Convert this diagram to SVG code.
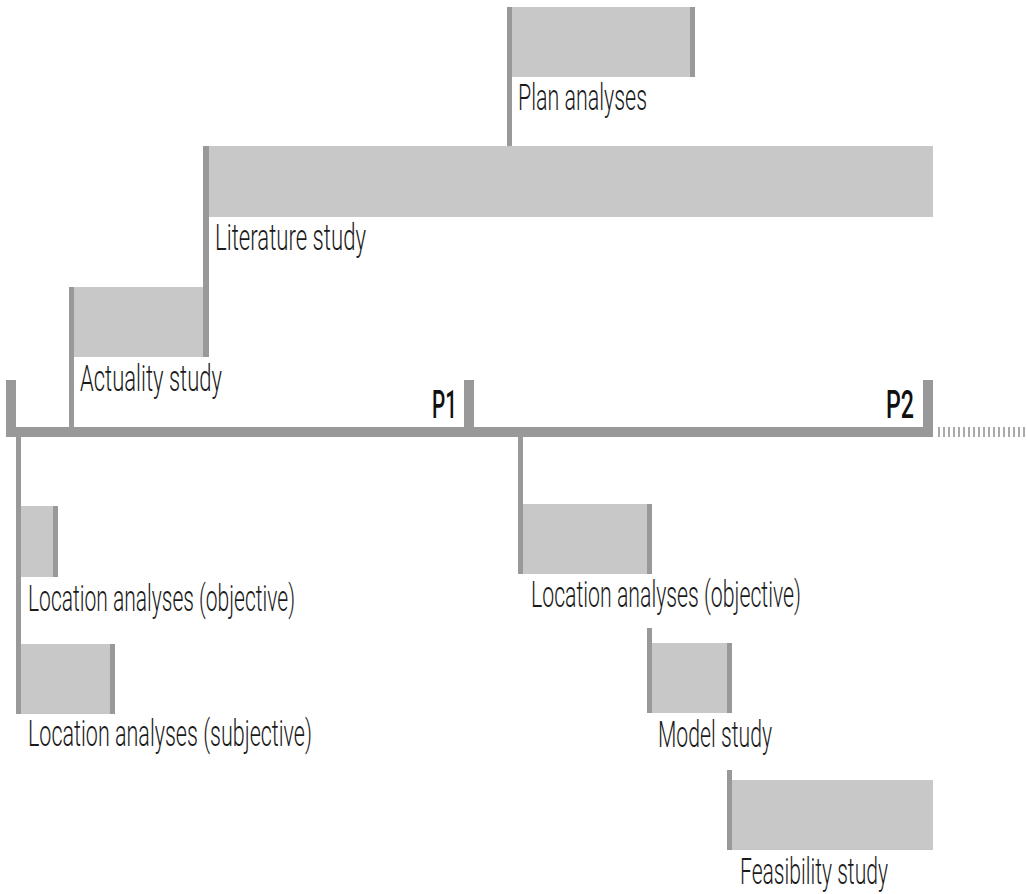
<svg xmlns="http://www.w3.org/2000/svg" width="1027" height="894" viewBox="0 0 1027 894">
<defs>
<style>
.box{fill:#c8c8c8}
.bar{fill:#999999}
.lbl{font-family:Roboto,"Liberation Sans",sans-serif;font-weight:300;font-size:36px;fill:#1a1a1a}
.mile{font-family:Roboto,"Liberation Sans",sans-serif;font-weight:500;font-size:38px;fill:#111111}
</style>
<pattern id="dots" x="938" y="0" width="5" height="10" patternUnits="userSpaceOnUse">
<rect x="0" y="0" width="2" height="10" fill="#aaaaaa"/>
</pattern>
</defs>
<rect width="1027" height="894" fill="#ffffff"/>

<g id="timeline">
<rect class="bar" x="6" y="427" width="927" height="10"/>
<rect class="bar" x="6" y="380" width="10" height="57"/>
<rect class="bar" x="464" y="380" width="10" height="47"/>
<rect class="bar" x="923" y="380" width="10" height="47"/>
<rect x="938" y="427" width="89" height="10" fill="url(#dots)"/>
<text class="mile" x="432" y="418" textLength="25" lengthAdjust="spacingAndGlyphs">P1</text>
<text class="mile" x="886" y="418" textLength="28" lengthAdjust="spacingAndGlyphs">P2</text>
</g>

<g id="connectors">
<rect class="bar" x="507" y="7" width="5" height="139"/>
<rect class="bar" x="203" y="146" width="6" height="211"/>
<rect class="bar" x="69" y="287" width="5" height="140"/>
<rect class="bar" x="16" y="437" width="5" height="277"/>
<rect class="bar" x="518" y="437" width="5" height="137"/>
<rect class="bar" x="647" y="628" width="5" height="85"/>
<rect class="bar" x="727" y="770" width="5" height="80"/>
</g>

<g id="plan-analyses">
<rect class="box" x="512" y="7" width="178" height="70"/>
<rect class="bar" x="690" y="7" width="5" height="70"/>
<text class="lbl" x="518" y="110" textLength="129" lengthAdjust="spacingAndGlyphs">Plan analyses</text>
</g>

<g id="literature-study">
<rect class="box" x="209" y="146" width="724" height="71"/>
<text class="lbl" x="215" y="250" textLength="151" lengthAdjust="spacingAndGlyphs">Literature study</text>
</g>

<g id="actuality-study">
<rect class="box" x="74" y="287" width="129" height="70"/>
<text class="lbl" x="80" y="391" textLength="142" lengthAdjust="spacingAndGlyphs">Actuality study</text>
</g>

<g id="location-objective-1">
<rect class="box" x="21" y="506" width="32" height="71"/>
<rect class="bar" x="53" y="506" width="5" height="71"/>
<text class="lbl" x="28" y="611" textLength="267" lengthAdjust="spacingAndGlyphs">Location analyses (objective)</text>
</g>

<g id="location-subjective-1">
<rect class="box" x="21" y="644" width="89" height="70"/>
<rect class="bar" x="110" y="644" width="5" height="70"/>
<text class="lbl" x="28" y="746" textLength="284" lengthAdjust="spacingAndGlyphs">Location analyses (subjective)</text>
</g>

<g id="location-objective-2">
<rect class="box" x="523" y="504" width="124" height="70"/>
<rect class="bar" x="647" y="504" width="5" height="70"/>
<text class="lbl" x="531" y="607" textLength="270" lengthAdjust="spacingAndGlyphs">Location analyses (objective)</text>
</g>

<g id="model-study">
<rect class="box" x="652" y="643" width="75" height="70"/>
<rect class="bar" x="727" y="643" width="5" height="70"/>
<text class="lbl" x="658" y="747" textLength="114" lengthAdjust="spacingAndGlyphs">Model study</text>
</g>

<g id="feasibility-study">
<rect class="box" x="732" y="780" width="201" height="70"/>
<text class="lbl" x="740" y="884" textLength="148" lengthAdjust="spacingAndGlyphs">Feasibility study</text>
</g>
</svg>
